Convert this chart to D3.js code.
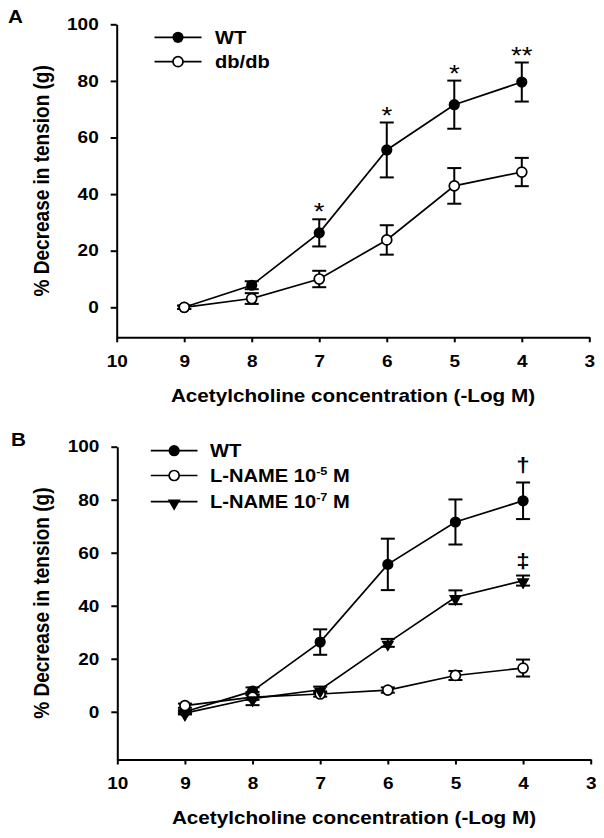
<!DOCTYPE html>
<html><head><meta charset="utf-8">
<script src="https://cdn.jsdelivr.net/npm/d3@7"></script>
<style>body{margin:0;background:#fff} svg{display:block}</style>
</head><body>
<svg id="c" width="604" height="838"></svg>
<script>
// ---- data ----
const conc = [9, 8, 7, 6, 5, 4];
const xTicks = [10, 9, 8, 7, 6, 5, 4, 3];
const yTicks = [0, 20, 40, 60, 80, 100];
const wtMean = [0, 7.8, 26.3, 55.6, 71.6, 79.6];
const wtErr  = [0.6, 1.4, 4.8, 9.7, 8.5, 6.9];
const dbMean = [0, 3.1, 10.0, 23.8, 42.9, 47.8];
const dbErr  = [0.6, 1.9, 2.9, 5.2, 6.3, 5.0];
const ln5Mean = [2.3, 5.5, 6.7, 8.2, 13.7, 16.5];
const ln5Err  = [0.8, 1.0, 1.0, 1.0, 1.7, 3.2];
const ln7Mean = [-0.5, 5.0, 8.3, 26.0, 43.2, 49.5];
const ln7Err  = [0.5, 2.5, 1.2, 1.5, 2.6, 1.9];
const starsA = ["", "", "*", "*", "*", "**"];
const marksWtB = ["", "", "", "", "", "\u2020"];
const marksLn7B = ["", "", "", "", "", "\u2021"];
const xTitle = "Acetylcholine concentration (-Log M)";
const yTitle = "% Decrease in tension (g)";

const FONT = "'Liberation Sans', Arial, sans-serif";
const SX = 1.15; // horizontal stretch of the original raster text
const svg = d3.select("#c");

function stretch(sel, s) {
  sel.each(function () {
    const t = d3.select(this);
    const x = +t.attr("x") || 0, y = +t.attr("y") || 0;
    t.attr("x", 0).attr("y", 0).attr("transform", `translate(${x},${y}) scale(${s},1)`);
  });
}

function makeSeries(mean, err, marker, marks) {
  return conc.map((c, i) => ({ x: c, y: mean[i], e: err[i], m: marks ? marks[i] : "", marker }));
}

function panel(cfg) {
  const g = svg.append("g");
  const x = d3.scaleLinear().domain([10, 3]).range(cfg.xRange);
  const y = d3.scaleLinear().domain(cfg.yDomain).range(cfg.yRange);

  const yAxis = g.append("g").attr("transform", `translate(${cfg.xRange[0]},0)`)
    .call(d3.axisLeft(y).tickValues(yTicks).tickFormat(d3.format("d")).tickSize(6).tickPadding(12).tickSizeOuter(0));
  const xAxis = g.append("g").attr("transform", `translate(0,${cfg.yRange[0]})`)
    .call(d3.axisBottom(x).tickValues(xTicks).tickFormat(d3.format("d")).tickSize(5).tickPadding(13).tickSizeOuter(0));
  [xAxis, yAxis].forEach(a => {
    a.selectAll("path,line").attr("stroke", "#000").attr("stroke-width", 2);
    a.selectAll("text").attr("fill", "#000").style("font-family", FONT)
      .style("font-weight", "bold").style("font-size", "16.5px");
    stretch(a.selectAll("text"), SX);
  });

  // titles
  g.append("text").attr("transform", `translate(${(cfg.xRange[0] + cfg.xRange[1]) / 2},${cfg.yRange[0] + 64.5}) scale(${SX},1)`)
    .attr("text-anchor", "middle").attr("fill", "#000").style("font-family", FONT).style("font-weight", "bold")
    .style("font-size", "18px").text(xTitle);
  g.append("text").attr("transform", `translate(48.5,${(cfg.yRange[0] + cfg.yRange[1]) / 2}) scale(${SX},1) rotate(-90)`)
    .attr("text-anchor", "middle").attr("fill", "#000").style("font-family", FONT).style("font-weight", "bold")
    .style("font-size", "19px").text(yTitle);
  g.append("text").attr("transform", `translate(${cfg.labelPos[0]},${cfg.labelPos[1]}) scale(${SX},1)`)
    .attr("fill", "#000").style("font-family", FONT).style("font-weight", "bold").style("font-size", "18px").text(cfg.label);

  const line = d3.line().x(d => x(d.x)).y(d => y(d.y));
  cfg.series.forEach(s => {
    g.append("path").datum(s.data).attr("d", line).attr("fill", "none")
      .attr("stroke", "#000").attr("stroke-width", 1.7);
  });
  cfg.series.forEach(s => {
    const eb = g.append("g").attr("stroke", "#000").attr("stroke-width", 2);
    s.data.forEach(d => {
      const cx = x(d.x), t = y(d.y + d.e), b = y(d.y - d.e);
      eb.append("line").attr("x1", cx).attr("x2", cx).attr("y1", t).attr("y2", b);
      eb.append("line").attr("x1", cx - 7).attr("x2", cx + 7).attr("y1", t).attr("y2", t);
      eb.append("line").attr("x1", cx - 7).attr("x2", cx + 7).attr("y1", b).attr("y2", b);
    });
  });
  function drawMarker(sel, type, cx, cy) {
    if (type === "filled") sel.append("circle").attr("cx", cx).attr("cy", cy).attr("r", 5.6).attr("fill", "#000");
    else if (type === "open") sel.append("circle").attr("cx", cx).attr("cy", cy).attr("r", 5)
      .attr("fill", "#fff").attr("stroke", "#000").attr("stroke-width", 1.7);
    else sel.append("path").attr("d", d3.symbol(d3.symbolTriangle, 72)())
      .attr("transform", `translate(${cx},${cy + 1.5}) rotate(180)`).attr("fill", "#000");
  }
  cfg.series.forEach(s => {
    s.data.forEach(d => drawMarker(g, s.marker, x(d.x), y(d.y)));
  });
  // annotations
  cfg.series.forEach(s => {
    s.data.forEach(d => {
      if (!d.m) return;
      const star = d.m.indexOf("*") >= 0;
      g.append("text").attr("transform", `translate(${x(d.x)},${y(d.y + d.e) + (star ? 1 : s.annoOff)}) scale(${SX},1)`)
        .attr("text-anchor", "middle").attr("fill", "#000").style("font-family", FONT)
        .style("font-weight", star ? "normal" : "bold")
        .style("font-size", star ? "24px" : "21px").text(d.m);
    });
  });
  // legend
  cfg.series.forEach((s, i) => {
    const ly = cfg.legend.y[i];
    g.append("line").attr("x1", cfg.legend.x1).attr("x2", cfg.legend.x2).attr("y1", ly).attr("y2", ly)
      .attr("stroke", "#000").attr("stroke-width", 1.7);
    drawMarker(g, s.marker, (cfg.legend.x1 + cfg.legend.x2) / 2, ly);
    const t = g.append("text").attr("transform", `translate(${cfg.legend.tx},${ly + 6.5}) scale(${SX},1)`)
      .attr("fill", "#000").style("font-family", FONT).style("font-weight", "bold").style("font-size", "17.5px");
    t.append("tspan").text(s.name[0]);
    if (s.name[1]) {
      t.append("tspan").attr("dy", -7).style("font-size", "11px").text(s.name[1]);
      t.append("tspan").attr("dy", 7).text(s.name[2]);
    }
  });
}

panel({
  label: "A", labelPos: [8, 23],
  xRange: [116.7, 589.3], yDomain: [-10.6, 100], yRange: [337.3, 24.3],
  legend: { x1: 154.5, x2: 201.5, tx: 215, y: [37.3, 61.7] },
  series: [
    { name: ["WT"], marker: "filled", data: makeSeries(wtMean, wtErr, "filled", starsA) },
    { name: ["db/db"], marker: "open", data: makeSeries(dbMean, dbErr, "open") }
  ]
});
panel({
  label: "B", labelPos: [11, 446],
  xRange: [117.3, 590.7], yDomain: [-18, 100], yRange: [759.5, 446.7],
  legend: { x1: 150.8, x2: 197.5, tx: 210, y: [450.7, 475.5, 501.7] },
  series: [
    { name: ["WT"], marker: "filled", annoOff: -10, data: makeSeries(wtMean, wtErr, "filled", marksWtB) },
    { name: ["L-NAME 10", "-5", " M"], marker: "open", data: makeSeries(ln5Mean, ln5Err, "open") },
    { name: ["L-NAME 10", "-7", " M"], marker: "tri", annoOff: -8, data: makeSeries(ln7Mean, ln7Err, "tri", marksLn7B) }
  ]
});
</script>
</body></html>
